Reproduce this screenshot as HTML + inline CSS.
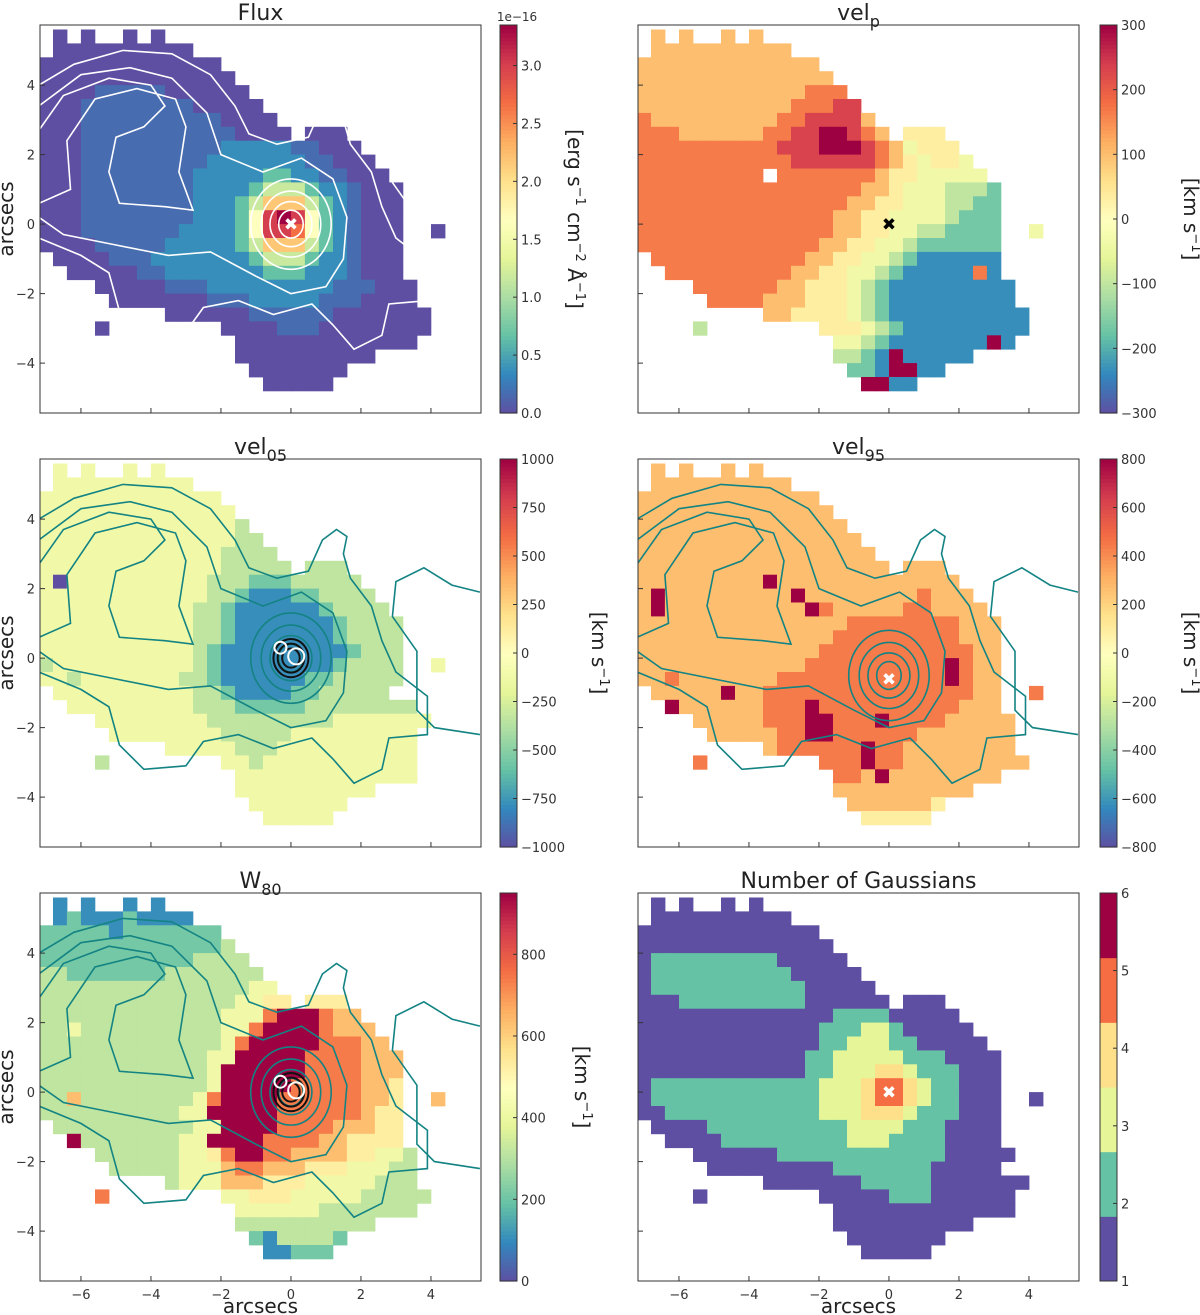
<!DOCTYPE html>
<html><head><meta charset="utf-8"><style>
html,body{margin:0;padding:0;background:#fff}
svg{display:block;font-family:"DejaVu Sans","Liberation Sans",sans-serif}
</style></head><body>
<svg id="fig" width="1200" height="1315" viewBox="0 0 1200 1315" xmlns="http://www.w3.org/2000/svg"></svg>
<script>
// ---- data: grids of levels ('.' = no data) ----
// cells are 0.4 arcsec; col i starts at x=-7.2+0.4i, row j starts at y=5.6-0.4j
const fluxGrid = [
".0.0..0.0",".0000000000","0000000000000","00000000000000","000011111000000","0001111111100000",
"00011111111110000","000111111111110000.000","00011111111112222211000","000111111111222222211000",
"0001111111122222332211000","00011111111222234443221000","00011111111222346664321000",
"00011111111222358985321000","00011111112222358875321000..0","00001111122222346664321000",
".0000111222222234443221000","..000001122222223332221000","....00000111222222222111000",
".....0000000111222221110000",".........0000001111110000000","....0........000011100000000",
"..............0000000000000","..............0000000000","...............0000000","................00000"];
const velpGrid = [
".6.6..6.6",".6666666666","6666666666666","66666666666666","666666666666777","6666666666677788",
"76666666667788886","777666666778899876.555","77777777778889998764555","777777777778888887654554",
"777777777.777777765544444","77777777777777776654443332","77777777777777766554443322",
"77777777777777665544443222","77777777777777665544332222..4","77777777777776655443222222",
".7777777777766554432111111","..777777777665544321111171","....77777766555432111111111",
".....7777666555432111111111",".........6655554321111111111","....3........555432111111111",
"..............4432111111191","..............3321911111","...............2219911","................9911"];
const vel05Grid = [
".4.4..4.4",".4444444444","4444444444444","44444444444444","444444444444443","4444444444444433",
"44444444444443333","444444444444433333.333","40444444444433322233333","444444444444332111223333",
"4444444444433211111123333","44444444444332111111123333","44444444444332111111123333",
"44444444444321111111112333","34444444444321111111123333..4","44344444443321111112233333",
".444444444433211112233333","..4444444443332222233333333","....444444443333333334444444",
".....4444444433333444444444",".........444443334444444444","....3........44344444444444",
"..............4444444444444","..............4444444444","...............4444444","................44444"];
const vel95Grid = [
".6.6..6.6",".6666666666","6666666666666","66666666666666","666666666666666","6666666666666666",
"66666666666666666","666666666666666666.666","66666666696666666666666","696666666669666666667666",
"6966666666669766666776666","66666666666666677777777666","66666666666666777777777666",
"66666666666667777777777766","66666666666677777777779766","66766666667777777777779766",
".6666696677777777777777766..7","..966666677797777777777666","....66666777997779777766666",
".....6666677997777776666666",".........677777797766666666","....7........777977666666666",
"..............776966666666","..............6666666666","...............6666665","................55555"];
const w80Grid = [
".1.1..1.1",".1211121111","2222212222222","22222222222223","222222222223333","3322222223333333",
"33333333333333344","333333333333334455.555","33333333333334447999766","334333333333344799997666",
"3333333333333479999977766","33333333333344999997777666","33333333333349999997777666",
"33333333333349999977777665","33633333333479999777777665..6","33333333334499999777777655",
".3333333333449999777766655","..933333334499997777665555","....33333344579977666655443",
".....3333344467766655544433",".........344466655544444333","....7........445554444433333",
"..............4444443333333","..............3333333333","...............2133332","................11222"];
const ngGrid = [
".1.1..1.1",".1111111111","1111111111111","11111111111111","122222222211111","1222222222211111",
"12222222222211111","111222222222111111.111","11111111111111222211111","111111111111122233211111",
"1111111111111223332211111","11111111111122333332221111","11111111111122333443222111",
"12222222222223334554322111","12222222222223334554322111..1","11222222222223334443222111",
".1111222222222233332221111","..111122222222233322221111","....11111122222222222211111",
".....111111111222222211111",".........1111111222221111111","....1........11111222111111",
"..............1111111111111","..............1111111111","...............1111111","................11111"];
// colorbar tick values
const fluxTicks = [0.0,0.5,1.0,1.5,2.0,2.5,3.0];
const velpTicks = [-300,-200,-100,0,100,200,300];
const vel05Ticks = [-1000,-750,-500,-250,0,250,500,750,1000];
const vel95Ticks = [-800,-600,-400,-200,0,200,400,600,800];
const w80Ticks = [0,200,400,600,800];
const ngTicks = [1,2,3,4,5,6];
const axisTicks = [-6,-4,-2,0,2,4];

const NS="http://www.w3.org/2000/svg";
const svg=document.getElementById('fig');
function el(tag,attrs,parent){const e=document.createElementNS(NS,tag);for(const k in attrs)e.setAttribute(k,attrs[k]);(parent||svg).appendChild(e);return e;}
const stops=[[0,[94,79,162]],[.1,[50,136,189]],[.2,[102,194,165]],[.3,[171,221,164]],[.4,[230,245,152]],[.5,[255,255,191]],[.6,[254,224,139]],[.7,[253,174,97]],[.8,[244,109,67]],[.9,[213,62,79]],[1,[158,1,66]]];
function cmap(t){t=Math.max(0,Math.min(1,t));for(let i=1;i<stops.length;i++){if(t<=stops[i][0]){const a=stops[i-1],b=stops[i];const f=(t-a[0])/(b[0]-a[0]);const c=a[1].map((v,k)=>Math.round(v+(b[1][k]-v)*f));return `rgb(${c})`;}}return 'rgb(158,1,66)';}
const ngColors=['#5e4fa2','#65c2a5','#e6f598','#fee08b','#f46d43','#9e0142'];
const fluxLevelMap=[0,0.05,0.11,0.2,0.35,0.5,0.65,0.8,0.9,1];
const W=441,H=388,XMIN=-7.17,YMAX=5.73,SX=35,SY=34.75;

// contours (arcsec)
const cOuter=[[-7.2,-0.4],[-6,-0.9],[-5.2,-1.4],[-4.9,-2.5],[-4.2,-3.2],[-3,-3.1],[-2.5,-2.4],[-1.5,-2.2],[-0.5,-2.6],[0.6,-2.3],[1.2,-2.9],[1.8,-3.6],[2.6,-3.2],[2.8,-2.3],[3.9,-2.2],[3.9,-1.1],[3,-0.4],[2.6,0.5],[2.3,1.5],[1.7,2.3],[1.5,3.0],[1.6,3.5],[1.3,3.7],[0.9,3.4],[0.5,2.5],[-0.4,2.3],[-1.2,2.6],[-1.6,3.4],[-2.3,4.3],[-3.4,4.9],[-4.8,5.0],[-6.2,4.6],[-7.2,4.0]];
const cMid=[[-7.2,3.4],[-6,4.3],[-4.6,4.5],[-3.4,4.2],[-2.4,3.2],[-2.0,2.0],[-0.8,1.5],[0.3,1.9],[1.2,1.3],[1.6,0.2],[1.5,-1],[1.0,-1.8],[0,-2.0],[-1.0,-1.5],[-2.3,-0.8],[-3.5,-0.9],[-5,-0.6],[-6.5,-0.3],[-7.2,0.2]];
const cIn=[[-7.2,2.7],[-6.5,3.7],[-5.2,4.2],[-4.0,4.0],[-3.6,3.4],[-4.2,2.8],[-5,2.5],[-5.2,1.5],[-4.9,0.6],[-3.6,0.5],[-2.8,0.4],[-3.2,1.5],[-3.0,2.8],[-3.3,3.6],[-4.4,3.9],[-5.6,3.6],[-6.4,2.4],[-6.3,1.0],[-7.2,0.6]];
const cRight=[[5.4,1.9],[4.6,2.1],[3.8,2.6],[3.0,2.2],[2.9,1.2],[3.6,0.2],[3.6,-1.5],[4.1,-2.0],[5.4,-2.2]];

function panel(cfg){
  const g=el('g',{});
  
  
  const x0=cfg.x0,y0=cfg.y0;
  const X=v=>x0+(v-XMIN)*SX, Y=v=>y0+(YMAX-v)*SY;
  const cp='clip-'+cfg.name;
  const cpe=el('clipPath',{id:cp},g);el('rect',{x:x0,y:y0,width:W,height:H},cpe);
  const cells=el('g',{'clip-path':`url(#${cp})`},g);
  
  
  cfg.grid.forEach((row,j)=>{for(let i=0;i<row.length;i++){const ch=row[i];if(ch==='.')continue;const d=+ch;
    const xa=X(-7.2+0.4*i),ya=Y(5.6-0.4*j);
    const fill=cfg.discrete?ngColors[d-1]:cmap(cfg.levels?cfg.levels[d]:d/9);
    const r=el('rect',{x:xa.toFixed(1),y:ya.toFixed(1),width:(0.4*SX+0.4).toFixed(1),height:(0.4*SY+0.4).toFixed(1),fill:fill},cells);
    
    
  }});
  if(cfg.contour){
    const cg=el('g',{'clip-path':`url(#${cp})`,fill:'none',stroke:cfg.contour,'stroke-width':1.6},g);
    
    
    [cOuter,cMid,cIn,cRight].forEach(p=>{el('polyline',{points:p.map(q=>X(q[0]).toFixed(1)+','+Y(q[1]).toFixed(1)).join(' ')},cg);});
    [[0.35,0.4],[0.6,0.65],[0.85,0.95],[1.15,1.3]].forEach(r=>el('ellipse',{cx:X(0),cy:Y(cfg.cy||0),rx:r[0]*SX,ry:r[1]*SY},cg));
  }
  if(cfg.squiggle){
    const sg=el('g',{fill:'none','stroke-width':2},g);
    
    
    [0.25,0.38,0.5].forEach(r=>el('ellipse',{cx:X(0),cy:Y(0),rx:r*SX,ry:r*1.1*SY,stroke:'#111'},sg));
    el('circle',{cx:X(-0.3),cy:Y(0.3),r:6,stroke:'#fff'},sg);el('circle',{cx:X(0.15),cy:Y(0.05),r:8,stroke:'#fff'},sg);
  }
  if(cfg.marker){
    const t=el('text',{x:X(0),y:Y(cfg.my||0)+6,'text-anchor':'middle','font-size':17,'font-weight':'bold',fill:cfg.marker},g);
    t.textContent='✖';
    
    
  }
  const fr=el('rect',{x:x0,y:y0,width:W,height:H,fill:'none',stroke:'#333','stroke-width':1},g);
  
  
  axisTicks.forEach(v=>{
    el('line',{x1:X(v),x2:X(v),y1:y0+H,y2:y0+H-5,stroke:'#333'},g);
    if(cfg.xlabels){const t=el('text',{x:X(v),y:y0+H+18,'text-anchor':'middle','font-size':13,fill:'#333'},g);t.textContent=(v<0?'−':'')+Math.abs(v);
      }
  });
  [-4,-2,0,2,4].forEach(v=>{
    el('line',{x1:x0,x2:x0+5,y1:Y(v),y2:Y(v),stroke:'#333'},g);
    if(cfg.ylabels){const t=el('text',{x:x0-5,y:Y(v)+5,'text-anchor':'end','font-size':13,fill:'#333'},g);t.textContent=(v<0?'−':'')+Math.abs(v);
      }
  });
  const tt=el('text',{x:x0+W/2,y:y0-5,'text-anchor':'middle','font-size':22,fill:'#222'},g);
  tt.innerHTML=cfg.title;
  
  
  if(cfg.ylabels){const t=el('text',{transform:`translate(${x0-27},${y0+H/2}) rotate(-90)`,'text-anchor':'middle','font-size':20,fill:'#222'},g);t.textContent='arcsecs';
    }
  if(cfg.xlabels){const t=el('text',{x:x0+W/2,y:y0+H+32,'text-anchor':'middle','font-size':20,fill:'#222'},g);t.textContent='arcsecs';
    }
  // colorbar
  const cx=cfg.cbx,cw=17;
  const cb=el('g',{},g);
  
  
  if(cfg.discrete){
    for(let k=0;k<6;k++)el('rect',{x:cx,y:y0+H-(k+1)*H/6,width:cw,height:H/6+0.5,fill:ngColors[k]},cb);
  } else {
    for(let k=0;k<100;k++)el('rect',{x:cx,y:y0+H-(k+1)*H/100,width:cw,height:H/100+0.6,fill:cmap((k+0.5)/100)},cb);
  }
  el('rect',{x:cx,y:y0,width:cw,height:H,fill:'none',stroke:'#333'},cb);
  cfg.ticks.forEach(v=>{const yy=y0+H-(v-cfg.vmin)/(cfg.vmax-cfg.vmin)*H;
    el('line',{x1:cx+cw,x2:cx+cw-4,y1:yy,y2:yy,stroke:'#333'},cb);
    const t=el('text',{x:cx+cw+4,y:yy+5,'font-size':13,fill:'#333'},cb);
    t.textContent=cfg.fmt?cfg.fmt(v):((v<0?'−':'')+Math.abs(v));
    
  });
  const lt=el('text',{transform:`translate(${cfg.lblx},${y0+H/2}) rotate(90)`,'text-anchor':'middle','font-size':20,fill:'#222'},cb);
  lt.innerHTML=cfg.cblabel;
  
  if(cfg.offset){const t=el('text',{x:cx+cw,y:y0-4,'text-anchor':'middle','font-size':12,fill:'#333'},cb);t.textContent=cfg.offset;
    }
}
const sup=s=>`<tspan dy="-8" font-size="13">${s}</tspan><tspan dy="8"> </tspan>`;
const sub=s=>`<tspan dy="7" font-size="16">${s}</tspan>`;
const kms='[km s'+`<tspan dy="-8" font-size="13">−1</tspan><tspan dy="8">]</tspan>`;
panel({name:'flux-panel',x0:40,y0:25,grid:fluxGrid,levels:fluxLevelMap,title:'Flux',ylabels:true,contour:'#fff',marker:'#fff',
  cbx:500,ticks:fluxTicks,vmin:0,vmax:3.35,fmt:v=>v.toFixed(1),lblx:568,offset:'1e−16',
  cblabel:'[erg s'+sup('−1')+'cm'+sup('−2')+'Å'+`<tspan dy="-8" font-size="13">−1</tspan><tspan dy="8">]</tspan>`});
panel({name:'velp-panel',x0:638,y0:25,grid:velpGrid,title:'vel'+sub('p'),marker:'#000',
  cbx:1100,ticks:velpTicks,vmin:-300,vmax:300,lblx:1184,cblabel:kms});
panel({name:'vel05-panel',x0:40,y0:459,grid:vel05Grid,title:'vel'+sub('05'),ylabels:true,contour:'#138383',squiggle:true,
  cbx:500,ticks:vel05Ticks,vmin:-1000,vmax:1000,lblx:592,cblabel:kms});
panel({name:'vel95-panel',x0:638,y0:459,grid:vel95Grid,title:'vel'+sub('95'),contour:'#138383',marker:'#fff',my:-0.6,cy:-0.5,
  cbx:1100,ticks:vel95Ticks,vmin:-800,vmax:800,lblx:1184,cblabel:kms});
panel({name:'w80-panel',x0:40,y0:893,grid:w80Grid,title:'W'+sub('80'),ylabels:true,xlabels:true,contour:'#138383',squiggle:true,
  cbx:500,ticks:w80Ticks,vmin:0,vmax:950,lblx:575,cblabel:kms});
panel({name:'ngauss-panel',x0:638,y0:893,grid:ngGrid,title:'Number of Gaussians',xlabels:true,marker:'#fff',discrete:true,
  cbx:1100,ticks:ngTicks,vmin:1,vmax:6,lblx:1190,cblabel:''});
</script>
</body></html>
